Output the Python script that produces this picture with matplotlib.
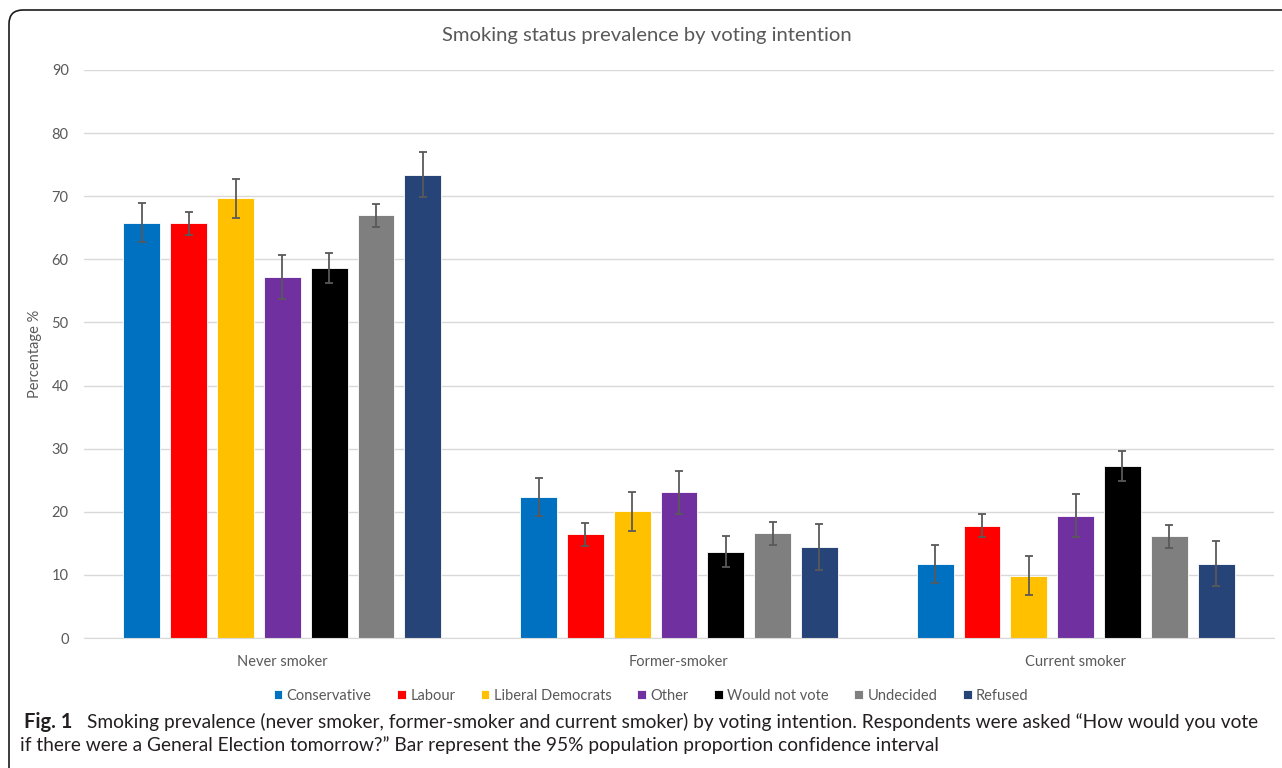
import matplotlib.pyplot as plt
import numpy as np
from matplotlib.patches import FancyBboxPatch

groups = ['Never smoker', 'Former-smoker', 'Current smoker']
parties = ['Conservative', 'Labour', 'Liberal Democrats', 'Other',
           'Would not vote', 'Undecided', 'Refused']
colors = ['#0070C0', '#FF0000', '#FFC000', '#7030A0',
          '#000000', '#7F7F7F', '#264478']

# percentage per party, one list per smoking status
never = [65.8, 65.7, 69.7, 57.2, 58.6, 67.0, 73.4]
former = [22.4, 16.4, 20.1, 23.1, 13.7, 16.6, 14.4]
current = [11.7, 17.8, 9.9, 19.4, 27.3, 16.1, 11.8]

# half-width of the 95% confidence interval
never_ci = [3.1, 1.8, 3.1, 3.5, 2.4, 1.8, 3.6]
former_ci = [3.0, 1.8, 3.1, 3.4, 2.4, 1.8, 3.6]
current_ci = [3.0, 1.8, 3.1, 3.4, 2.4, 1.8, 3.6]

caption_1 = ('Smoking prevalence (never smoker, former-smoker and current smoker) '
             'by voting intention. Respondents were asked \u201cHow would you vote')
caption_2 = ('if there were a General Election tomorrow?\u201d Bar represent the 95% '
             'population proportion confidence interval')

values = np.array([never, former, current])
errors = np.array([never_ci, former_ci, current_ci])

plt.rcParams['font.family'] = ['Lato', 'DejaVu Sans']

fig = plt.figure(figsize=(12.82, 7.68), dpi=100)
ax = fig.add_axes([84 / 1282, 1 - 638 / 768, 1190 / 1282, 568 / 768])

x = np.arange(len(groups))
width = 0.093
pitch = 0.118
for i, (party, color) in enumerate(zip(parties, colors)):
    offset = (i - 3) * pitch
    ax.bar(x + offset, values[:, i], width, color=color, label=party,
           edgecolor='white', linewidth=0.6, zorder=2)
    ax.errorbar(x + offset, values[:, i], yerr=errors[:, i], fmt='none',
                ecolor='#595959', elinewidth=1.3, capsize=3, capthick=1.3,
                zorder=3)

ax.set_xlim(-0.5, 2.5)
ax.set_ylim(0, 90)
ax.set_yticks(np.arange(0, 91, 10))
ax.set_xticks(x)
ax.set_xticklabels(groups)
ax.tick_params(length=0, colors='#595959', labelsize=10.5, pad=12)
ax.tick_params(axis='y', pad=11)
ax.grid(axis='y', color='#D9D9D9', linewidth=1, zorder=0)
for side in ['top', 'right', 'left']:
    ax.spines[side].set_visible(False)
ax.spines['bottom'].set_color('#D9D9D9')
ax.set_axisbelow(True)

ax.set_ylabel('Percentage %', color='#595959', fontsize=10.5, labelpad=7)
fig.text(647 / 1282, 1 - 35 / 768, 'Smoking status prevalence by voting intention',
         ha='center', va='center', color='#595959', fontsize=14.6)

leg = ax.legend(loc='center', bbox_to_anchor=(651 / 1282, 1 - 696 / 768),
                bbox_transform=fig.transFigure, ncol=7, frameon=False,
                fontsize=10.5, handlelength=0.6, handleheight=0.6,
                handletextpad=0.3, columnspacing=1.75)
for t in leg.get_texts():
    t.set_color('#595959')

# caption below the chart
cap_size = 13.8
line1_y = 1 - 728 / 768
line2_y = 1 - 751 / 768
fig.text(24 / 1282, line1_y, 'Fig. 1', fontweight='bold', fontsize=14.5,
         va='baseline', color='#231F20')
fig.text(87 / 1282, line1_y, caption_1, fontsize=cap_size, va='baseline',
         color='#231F20')
fig.text(20 / 1282, line2_y, caption_2, fontsize=cap_size, va='baseline',
         color='#231F20')

# rounded frame, open on the right and bottom edges of the image
frame = FancyBboxPatch((0.09, -0.3), 13.0, 7.88,
                       boxstyle='round,pad=0,rounding_size=0.14',
                       transform=fig.dpi_scale_trans, fill=False,
                       edgecolor='#1a1a1a', linewidth=1.2)
fig.patches.append(frame)

fig.savefig('out.png', dpi=100)
